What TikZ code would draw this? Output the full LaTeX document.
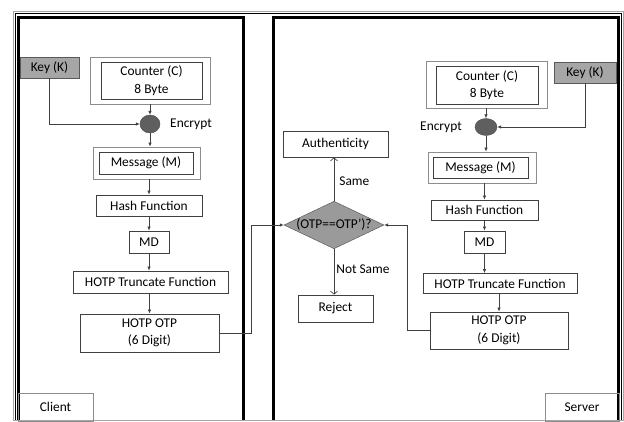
\documentclass[tikz,border=0pt]{standalone}
\usepackage{fontspec}
\setmainfont{Carlito}
\usetikzlibrary{shapes.geometric,arrows.meta}
\definecolor{boxline}{HTML}{404040}
\definecolor{outline}{HTML}{8C8C8C}
\definecolor{keyfill}{HTML}{A6A6A6}
\definecolor{encfill}{HTML}{5F5F5F}
\definecolor{cmpfill}{HTML}{9A9A9A}
\tikzset{
  txt/.style={font=\fontsize{13.4}{17.5}\selectfont, align=center, inner sep=0pt},
  box/.style={txt, draw=boxline, line width=0.8pt},
  outbox/.style={draw=outline, line width=0.8pt, inner sep=0pt},
  keybox/.style={box, fill=keyfill, draw=black!65},
  enc/.style={ellipse, draw=black!70, fill=encfill, inner sep=0pt},
  panel/.style={line width=2.6pt, black},
  flow/.style={draw=black!75, line width=0.7pt, -{Latex[length=4pt,width=3.5pt]}},
  decide/.style={draw=black!75, line width=0.7pt, -{Straight Barb[length=3pt,width=7pt]}}
}
\begin{document}
\begin{tikzpicture}[x=1pt,y=-1pt]
\useasboundingbox (0,0) rectangle (624,421);
% frame
\draw[gray!70, line width=1pt] (13,11) rectangle (623,420);
\draw[black, line width=0.8pt] (15,420) -- (15,13) -- (621,13) -- (621,420);
\draw[panel] (18.5,420) -- (18.5,17.5) -- (243.5,17.5) -- (243.5,420);
\draw[panel] (273.5,420) -- (273.5,17.5) -- (618.5,17.5) -- (618.5,420);

% client
\node[box, draw=outline, minimum width=75pt, minimum height=28pt] (client) at (55.5,407) {Client};
\node[keybox, minimum width=59pt, minimum height=21pt] (keyC) at (49.5,67.5) {Key (K)};
\node[outbox, minimum width=120pt, minimum height=47pt] (cntCo) at (150,80.5) {};
\node[box, minimum width=101pt, minimum height=37pt] (cntC) at (151.5,80.5) {Counter (C)\\8 Byte};
\node[enc, minimum width=20pt, minimum height=18pt] (encC) at (150,124) {};
\node[txt] (encCl) at (191,124) {Encrypt};
\node[outbox, minimum width=107pt, minimum height=32pt] (msgCo) at (146.5,163) {};
\node[box, minimum width=94pt, minimum height=22pt] (msgC) at (146,163) {Message (M)};
\node[box, minimum width=106pt, minimum height=21pt] (hashC) at (149,205.5) {Hash Function};
\node[box, minimum width=40pt, minimum height=22pt] (mdC) at (149,242) {MD};
\node[box, minimum width=155pt, minimum height=22pt] (truncC) at (150.5,282) {HOTP Truncate Function};
\node[box, minimum width=139pt, minimum height=38pt] (otpC) at (149.5,333) {HOTP OTP\\(6 Digit)};

% compare
\node[diamond, draw=black!70, fill=cmpfill, aspect=2.1, txt, minimum width=100pt, minimum height=47pt] (cmp) at (334,225) {(OTP==OTP’)?};
\node[box, minimum width=105pt, minimum height=26pt] (auth) at (335.5,144) {Authenticity};
\node[box, minimum width=75pt, minimum height=27pt] (rej) at (335.5,308.5) {Reject};
\coordinate (jC) at (251,225);
\coordinate (jS) at (407,225);

% server
\node[box, draw=outline, minimum width=74pt, minimum height=28pt] (server) at (582,407) {Server};
\node[outbox, minimum width=121pt, minimum height=47pt] (cntSo) at (486.5,84.5) {};
\node[box, minimum width=102pt, minimum height=38pt] (cntS) at (487,85) {Counter (C)\\8 Byte};
\node[keybox, minimum width=62pt, minimum height=21pt] (keyS) at (585,72.5) {Key (K)};
\node[enc, minimum width=22pt, minimum height=17pt] (encS) at (486,127) {};
\node[txt] (encSl) at (441,127) {Encrypt};
\node[outbox, minimum width=108pt, minimum height=31pt] (msgSo) at (482,167.5) {};
\node[box, minimum width=95pt, minimum height=21pt] (msgS) at (480.5,167.5) {Message (M)};
\node[box, minimum width=107pt, minimum height=20pt] (hashS) at (484.5,210) {Hash Function};
\node[box, minimum width=41pt, minimum height=22pt] (mdS) at (484.5,242) {MD};
\node[box, minimum width=154pt, minimum height=20pt] (truncS) at (500,283.5) {HOTP Truncate Function};
\node[box, minimum width=138pt, minimum height=37pt] (otpS) at (499,330.5) {HOTP OTP\\(6 Digit)};

% client arrows
\draw[flow] (keyC.south) |- (encC.west);
\draw[flow] (encC.north |- cntCo.south) -- (encC.north);
\draw[flow] (encC.south) -- (encC.south |- msgCo.north);
\draw[flow] (hashC.north |- msgCo.south) -- (hashC.north);
\draw[flow] (hashC.south) -- (mdC.north);
\draw[flow] (mdC.south) -- (mdC.south |- truncC.north);
\draw[flow] (otpC.north |- truncC.south) -- (otpC.north);
\draw[flow] (otpC.east) -| (jC) -- (cmp.west);

% server arrows
\draw[flow] (keyS.south) |- (encS.east);
\draw[flow] (encS.north |- cntSo.south) -- (encS.north);
\draw[flow] (encS.south) -- (encS.south |- msgSo.north);
\draw[flow] (hashS.north |- msgSo.south) -- (hashS.north);
\draw[flow] (hashS.south) -- (mdS.north);
\draw[flow] (mdS.south) -- (mdS.south |- truncS.north);
\draw[flow] (otpS.north |- truncS.south) -- (otpS.north);
\draw[flow] (otpS.west) -| (jS) -- (cmp.east);

% decision
\draw[decide] (cmp.north) -- node[txt, right=5pt, pos=0.45] {Same} (cmp.north |- auth.south);
\draw[decide] (cmp.south) -- node[txt, right=2pt, pos=0.45] {Not Same} (cmp.south |- rej.north);
\end{tikzpicture}
\end{document}
